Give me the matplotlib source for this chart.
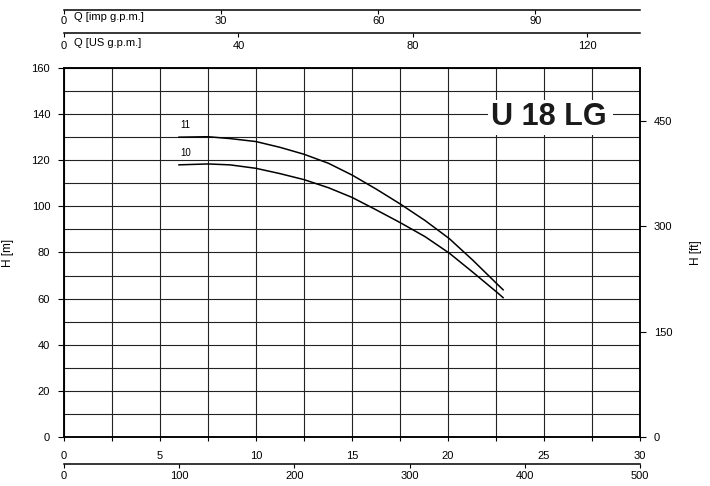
import matplotlib
matplotlib.use("Agg")
import matplotlib.pyplot as plt
from matplotlib.patches import Rectangle
from matplotlib.ticker import MultipleLocator, FixedLocator

plt.rcParams['font.family'] = ['Liberation Sans', 'DejaVu Sans']

# ---- data ----
q_m3h = [5.95, 7.5, 8.65, 10, 11.25, 12.5, 13.77, 15, 16.28, 17.5, 18.8, 20.07, 21.3, 22.6, 22.9]
h_11 = [130, 130.2, 129.4, 128.1, 125.6, 122.6, 118.7, 113.6, 107.4, 101.1, 93.9, 86.0, 76.6, 66.0, 63.6]
h_10 = [118, 118.4, 118, 116.5, 114.2, 111.6, 108.1, 103.9, 98.4, 93.0, 86.9, 79.7, 71.4, 62.4, 60.2]
curve_names = ["11", "10"]

x_ticks_m3h = [0, 5, 10, 15, 20, 25, 30]
x_ticks_lmin = [0, 100, 200, 300, 400, 500]
x_ticks_imp = [0, 30, 60, 90]
x_ticks_us = [0, 40, 80, 120]
y_ticks_m = [0, 20, 40, 60, 80, 100, 120, 140, 160]
y_ticks_ft = [0, 150, 300, 450]
title = "U 18 LG"

# unit conversions
M_TO_FT = 1 / 0.3048
M3H_TO_LMIN = 1000 / 60
M3H_TO_IMP = 1000 / 60 / 4.54609
M3H_TO_US = 1000 / 60 / 3.785411

QMAX = 30
HMAX = 160

W, H = 710, 486
fig = plt.figure(figsize=(W / 100, H / 100), dpi=100)

L, R = 64, 640
T, B = 68, 437
ax = fig.add_axes([L / W, (H - B) / H, (R - L) / W, (B - T) / H])
ax.set_xlim(0, QMAX)
ax.set_ylim(0, HMAX)

gridc = '#222222'
ax.xaxis.set_major_locator(FixedLocator(x_ticks_m3h))
ax.xaxis.set_minor_locator(MultipleLocator(2.5))
ax.yaxis.set_major_locator(FixedLocator(y_ticks_m))
ax.yaxis.set_minor_locator(MultipleLocator(10))
ax.grid(which='both', color=gridc, linewidth=0.8)
ax.set_axisbelow(True)
ax.tick_params(axis='x', which='both', direction='out', length=3, width=0.8,
               labelsize=8, pad=7, color='black')
ax.tick_params(axis='y', which='major', direction='out', length=4, width=0.8,
               labelsize=8, pad=6, color='black')
ax.tick_params(axis='y', which='minor', length=0)
for s in ax.spines.values():
    s.set_linewidth(1.1)
    s.set_color('black')

ax.set_ylabel("H [m]", fontsize=8.5)
ax.yaxis.set_label_coords((14 - L) / (R - L), 0.5)

# curves
for hv in (h_11, h_10):
    ax.plot(q_m3h, hv, color='black', lw=1.1, zorder=4,
            solid_joinstyle='round', solid_capstyle='butt')
ax.text(q_m3h[0] + 0.1, h_11[0] + 3.0, curve_names[0], fontsize=7, ha='left', va='bottom')
ax.text(q_m3h[0] + 0.1, h_10[0] + 3.0, curve_names[1], fontsize=7, ha='left', va='bottom')

# title box
ax.add_patch(Rectangle((22.1, 131), 6.5, 15, facecolor='white', edgecolor='none', zorder=3))
ax.text(25.26, 138.6, title, fontsize=22, fontweight='bold', ha='center', va='center',
        color='#1a1a1a', zorder=5)

# right axis in ft
axr = ax.twinx()
axr.set_ylim(0, HMAX * M_TO_FT)
axr.yaxis.set_major_locator(FixedLocator(y_ticks_ft))
axr.tick_params(axis='y', direction='out', length=4, width=0.8, labelsize=8, pad=6)
axr.set_ylabel("H [ft]", fontsize=8.5)
axr.yaxis.set_label_coords((690 - L) / (R - L), 0.5)
for s in axr.spines.values():
    s.set_linewidth(1.1)


def flow_axis(ypix, vmax, ticks, labelpad):
    a = fig.add_axes([L / W, (H - ypix) / H, (R - L) / W, 0.001])
    a.set_xlim(0, vmax)
    a.set_ylim(0, 1)
    a.patch.set_visible(False)
    for k in ('top', 'left', 'right'):
        a.spines[k].set_visible(False)
    a.spines['bottom'].set_linewidth(1.1)
    a.set_yticks([])
    a.xaxis.set_major_locator(FixedLocator(ticks))
    a.tick_params(axis='x', direction='out', length=3, width=0.8, labelsize=8, pad=labelpad)
    return a


# bottom l/min axis
flow_axis(464, QMAX * M3H_TO_LMIN, x_ticks_lmin, 2)
# top imp gpm axis
flow_axis(10, QMAX * M3H_TO_IMP, x_ticks_imp, 1.5)
# top US gpm axis
flow_axis(33, QMAX * M3H_TO_US, x_ticks_us, 2.5)

fig.text(74 / W, (H - 17) / H, "Q [imp g.p.m.]", fontsize=8, ha='left', va='center')
fig.text(74 / W, (H - 43) / H, "Q [US g.p.m.]", fontsize=8, ha='left', va='center')

fig.savefig("out.png", dpi=100)
